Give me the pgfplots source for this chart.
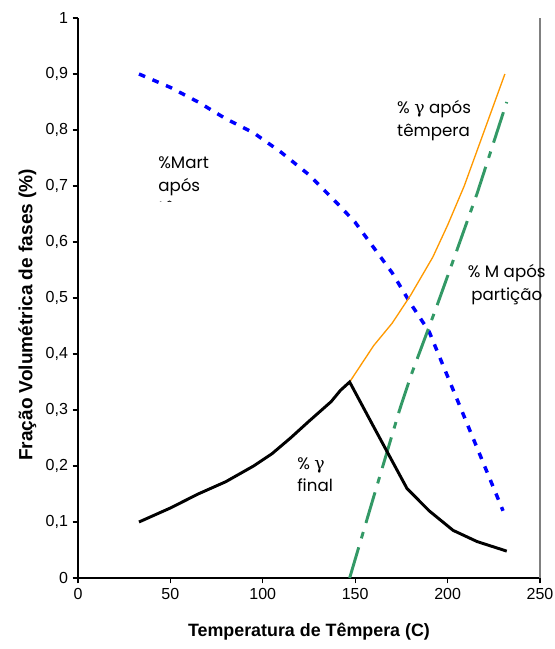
\documentclass[border=0pt]{standalone}
\usepackage{fontspec}
\setmainfont{Liberation Sans}
\newfontfamily\gothic{Poppins}
\newfontfamily\greek{DejaVu Serif}
\usepackage{pgfplots}
\pgfplotsset{compat=1.18}
\definecolor{martblue}{HTML}{0000FF}
\definecolor{gamorange}{HTML}{FF9900}
\definecolor{partgreen}{HTML}{339966}

\newcommand{\annot}{\gothic\fontsize{12.5}{17}\selectfont}
\newcommand{\gam}{{\greek\fontsize{13}{17}\selectfont γ}}

\begin{document}
\begin{tikzpicture}
\begin{axis}[
  scale only axis,
  width=346.5pt, height=420pt,
  xmin=0, xmax=250, ymin=0, ymax=1,
  axis x line*=bottom, axis y line*=left,
  axis line style={black, line width=0.8pt},
  tick style={black, line width=0.8pt},
  tick align=outside, major tick length=4pt,
  xtick={0,50,...,250},
  ytick={0,0.1,...,1},
  /pgf/number format/.cd, use comma, fixed, precision=1, assume math mode=true,
  /pgfplots/.cd,
  ticklabel style={font=\fontsize{12}{14}\selectfont},
  xlabel={\textbf{Temperatura de Têmpera (C)}},
  ylabel={\textbf{Fração Volumétrica de fases (\%)}},
  xlabel style={font=\fontsize{13.4}{16}\selectfont, at={(axis description cs:0.5,0)}, anchor=center, yshift=-40pt},
  ylabel style={font=\fontsize{14.3}{16}\selectfont, at={(axis description cs:0,0.47)}, anchor=center, yshift=38pt},
  clip=false,
]
% %Mart apos tempera
\addplot[martblue, line width=2.6pt, dash pattern=on 5pt off 6pt] coordinates {
  (33,0.90) (50,0.876) (65,0.85) (80,0.82) (95,0.795) (110,0.76) (125,0.72)
  (140,0.67) (150,0.635) (160,0.59) (170,0.545) (180,0.49) (190,0.44)
  (200,0.36) (210,0.28) (220,0.2) (230,0.12)};
% %gamma apos tempera
\addplot[gamorange, line width=1pt] coordinates {
  (147,0.35) (160,0.415) (170,0.455) (180,0.505) (192,0.573) (200,0.63)
  (209,0.70) (220,0.80) (231,0.90)};
% %M apos particao
\addplot[partgreen, line width=2.2pt, dash pattern=on 24pt off 7pt on 5pt off 7pt] coordinates {
  (147,0) (160,0.145) (174,0.30) (180,0.36) (194,0.484) (205,0.585)
  (216,0.687) (232,0.85)};
% %gamma final
\addplot[black, line width=2.2pt] coordinates {
  (33,0.10) (50,0.125) (65,0.15) (80,0.172) (95,0.20) (105,0.222) (115,0.25)
  (125,0.28) (137,0.315) (142,0.335) (147,0.35) (160,0.27) (178,0.16)
  (190,0.12) (203,0.085) (216,0.065) (232,0.048)};

\draw[gray, line width=0.8pt] (rel axis cs:1,0) -- (rel axis cs:1,1);

% multi-line nodes: base anchor sits on the last line
\node[anchor=base west, align=left, font=\annot, inner sep=0pt] at (axis cs:172.6,0.789) {\% \gam\ após\\têmpera};
\node[anchor=base, align=center, font=\annot, inner sep=0pt] at (axis cs:232,0.496) {\% M após\\partição};
\node[anchor=base west, align=left, font=\annot, inner sep=0pt] at (axis cs:118.5,0.154) {\% \gam\\final};

\coordinate (m1) at (axis cs:35,0.672);
\coordinate (m2) at (axis cs:110,0.80);
\coordinate (mt) at (axis cs:43.3,0.65);
\coordinate (bl) at (rel axis cs:0,0);
\coordinate (tr) at (rel axis cs:1,1);
\end{axis}
\begin{scope}
\clip (m1) rectangle (m2);
\node[anchor=base west, align=left, font=\annot, inner sep=0pt] at (mt) {\%Mart\\após\\têmpera};
\end{scope}
\pgfresetboundingbox
\path ([xshift=-58.5pt,yshift=-53.25pt]bl) rectangle ([xshift=11.25pt,yshift=13.5pt]tr);
\end{tikzpicture}
\end{document}
